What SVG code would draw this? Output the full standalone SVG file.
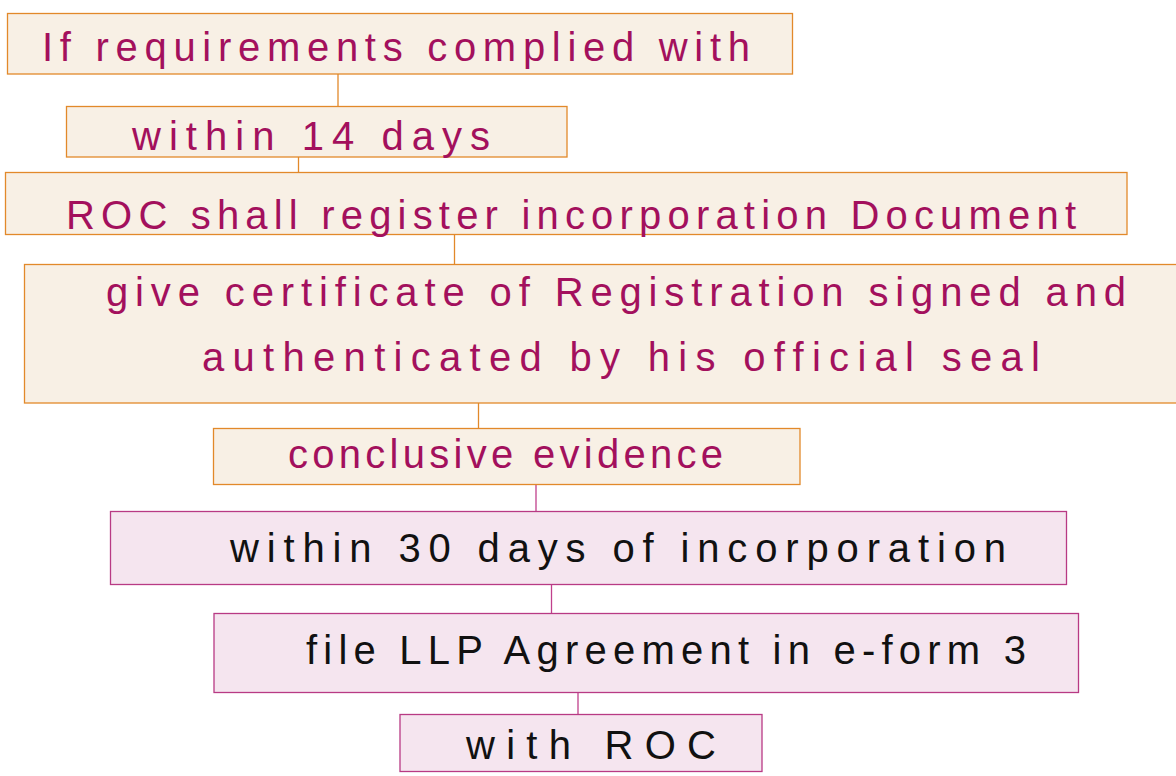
<svg xmlns="http://www.w3.org/2000/svg" width="1176" height="776" viewBox="0 0 1176 776">
<style>
.b{fill:#f8f0e5;stroke:#e2892a;stroke-width:1.3}
.p{fill:#f5e5ef;stroke:#b83a84;stroke-width:1.3}
.t{font-family:"Liberation Sans",Arial,sans-serif;font-size:40px;fill:#a3105d}
.k{font-family:"Liberation Sans",Arial,sans-serif;font-size:40px;fill:#111}
.co{stroke:#e2892a;stroke-width:1.3;fill:none}
.cp{stroke:#c0408c;stroke-width:1.3;fill:none}
</style>
<rect width="1176" height="776" fill="#fff"/>
<g id="connectors">
<line class="co" x1="338" y1="74" x2="338" y2="107"/>
<line class="co" x1="298.5" y1="157" x2="298.5" y2="172"/>
<line class="co" x1="454.5" y1="235" x2="454.5" y2="264"/>
<line class="co" x1="478.5" y1="403" x2="478.5" y2="428"/>
<line class="cp" x1="536" y1="485" x2="536" y2="511"/>
<line class="cp" x1="551.5" y1="585" x2="551.5" y2="613"/>
<line class="cp" x1="578" y1="693" x2="578" y2="714"/>
</g>
<g id="n1"><rect class="b" x="7.5" y="13.5" width="785" height="60.5"/>
<text class="t" x="42" y="61" textLength="708">If requirements complied with</text></g>
<g id="n2"><rect class="b" x="66.5" y="106.5" width="500.5" height="50.5"/>
<text class="t" x="132" y="150" textLength="358">within 14 days</text></g>
<g id="n3"><rect class="b" x="5.5" y="172.5" width="1121.5" height="62"/>
<text class="t" x="66" y="229" textLength="1010">ROC shall register incorporation Document</text></g>
<g id="n4"><rect class="b" x="24.5" y="264.5" width="1160" height="138.5"/>
<text class="t" x="106" y="306" textLength="1020">give certificate of Registration signed and</text>
<text class="t" x="202" y="371" textLength="838">authenticated by his official seal</text></g>
<g id="n5"><rect class="b" x="213.5" y="428.5" width="586.5" height="56"/>
<text class="t" x="288" y="468" textLength="435">conclusive evidence</text></g>
<g id="n6"><rect class="p" x="110.5" y="511.5" width="956" height="73"/>
<text class="k" x="230" y="562" textLength="776">within 30 days of incorporation</text></g>
<g id="n7"><rect class="p" x="214" y="613.5" width="864.5" height="79"/>
<text class="k" x="306" y="664" textLength="720">file LLP Agreement in e-form 3</text></g>
<g id="n8"><rect class="p" x="400" y="714.5" width="362" height="57"/>
<text class="k" x="466" y="759" textLength="250">with ROC</text></g>
</svg>
